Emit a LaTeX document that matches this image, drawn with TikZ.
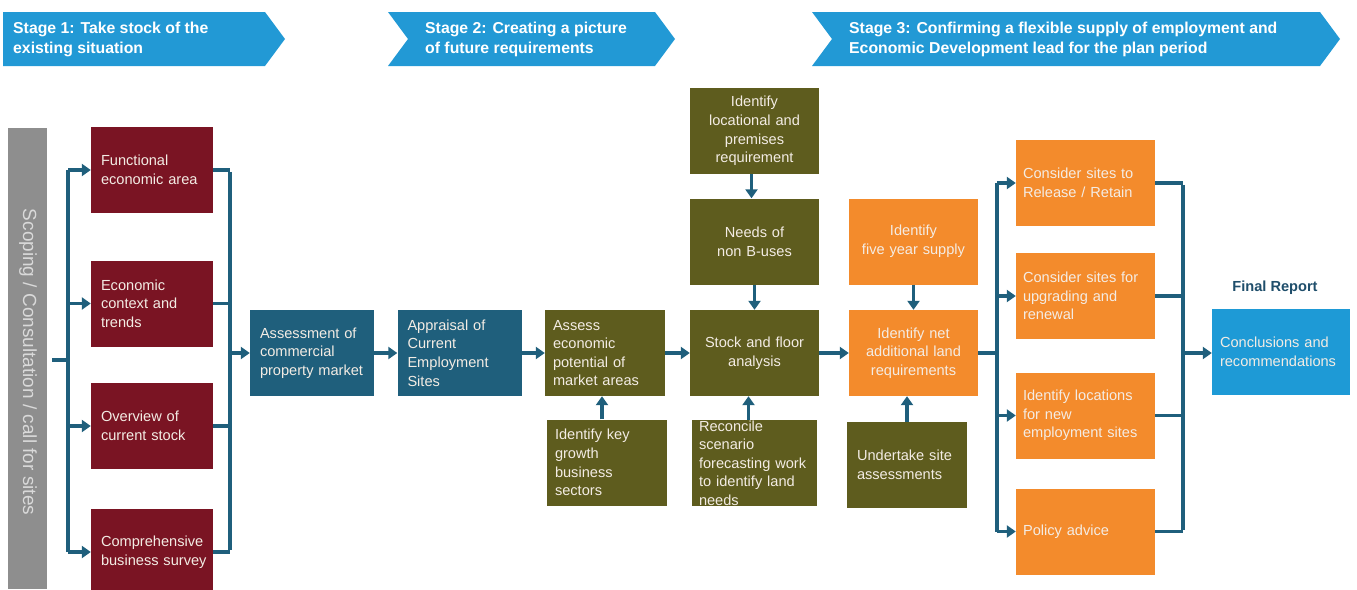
\documentclass[tikz,border=0pt]{standalone}
\usepackage{fontspec}
\setmainfont{Liberation Sans}
\usetikzlibrary{arrows.meta}
\definecolor{bannerblue}{HTML}{2299D5}
\definecolor{redbox}{HTML}{7A1423}
\definecolor{tealbox}{HTML}{1F5F7C}
\definecolor{olivebox}{HTML}{5E5C1E}
\definecolor{orangebox}{HTML}{F38B2C}
\definecolor{lightblue}{HTML}{1E9AD6}
\definecolor{greybar}{HTML}{8E8E8E}
\definecolor{greytext}{HTML}{D9D9D9}
\definecolor{arrcol}{HTML}{1F5F7C}
\definecolor{reporttext}{HTML}{1F4E6B}
\definecolor{boxtext}{HTML}{F3ECE4}
\newcommand\myboxfont{\fontsize{14.6}{18.6}\selectfont\hyphenpenalty=10000 \exhyphenpenalty=10000 \hbadness=10000 \hfuzz=50pt\relax}
\tikzset{
  box/.style={rectangle, inner xsep=10pt, inner ysep=0pt, text=boxtext,
    font=\myboxfont, minimum height=86pt},
  redb/.style={box, fill=redbox, minimum width=122pt, text width=102pt, align=left},
  tealb/.style={box, fill=tealbox, minimum width=124pt, text width=104pt, align=left},
  oliveL/.style={box, fill=olivebox, minimum width=120pt, text width=104pt, align=left, inner xsep=8pt},
  oliveC/.style={box, fill=olivebox, minimum width=129pt, text width=115pt, align=center, inner xsep=7pt},
  orangeC/.style={box, fill=orangebox, minimum width=129pt, text width=115pt, align=center, inner xsep=7pt},
  orangeL/.style={box, fill=orangebox, minimum width=139pt, text width=125pt, align=left, inner xsep=7pt},
  ln/.style={draw=arrcol, line width=3.6pt},
  arr/.style={ln, -{Triangle[length=9pt,width=12pt]}},
  bannertext/.style={text=white, font=\bfseries\fontsize{15.8}{20}\selectfont, align=left, anchor=west, inner sep=0pt},
}
\begin{document}
\begin{tikzpicture}[x=1pt,y=-1pt]
\useasboundingbox (0,0) rectangle (1357,589);
% banners
\fill[bannerblue] (3,12) -- (265,12) -- (285,39) -- (265,66) -- (3,66) -- cycle;
\fill[bannerblue] (388,12) -- (655,12) -- (675,39) -- (655,66) -- (388,66) -- (408,39) -- cycle;
\fill[bannerblue] (812,12) -- (1320,12) -- (1340,39) -- (1320,66) -- (812,66) -- (832,39) -- cycle;
\node[bannertext] (s1) at (13,39) {Stage 1: Take stock of the\\existing situation};
\node[bannertext] (s2) at (425,39) {Stage 2: Creating a picture\\of future requirements};
\node[bannertext] (s3) at (849,39) {Stage 3: Confirming a flexible supply of employment and\\Economic Development lead for the plan period};
% grey bar
\fill[greybar] (8,128) rectangle (47,589);
\node[text=greytext, rotate=-90, font=\fontsize{19}{22}\selectfont, inner sep=0pt] (grey) at (28,362) {Scoping / Consultation / call for sites};
\coordinate (greyE) at (52,360);
% red boxes
\node[redb] (fea) at (152,170) {Functional\\economic area};
\node[redb] (ect) at (152,303.5) {Economic\\context and\\trends};
\node[redb] (ocs) at (152,426) {Overview of\\current stock};
\node[redb] (cbs) at (152,552) {Comprehensive\\business~survey};
% teal boxes
\node[tealb] (acp) at (312,353) {Assessment of\\commercial\\property~market};
\node[tealb] (ace) at (459.5,353) {Appraisal of\\Current\\Employment\\Sites};
% olive
\node[oliveL] (aep) at (605,353) {Assess\\economic\\potential of\\market~areas};
\node[oliveL] (ikg) at (607,462.5) {Identify key\\growth\\business\\sectors};
\node[oliveC] (sfa) at (754.5,353) {Stock and floor\\analysis};
\node[oliveC] (nnb) at (754.5,241.5) {Needs of\\non B-uses};
\node[oliveC] (ilp) at (754.5,131) {Identify\\locational and\\premises\\requirement};
\node[oliveL, minimum width=125pt, text width=111pt, inner xsep=7pt] (rsf) at (754.5,463) {Reconcile\\scenario\\forecasting~work\\to~identify~land\\needs};
\node[oliveL, inner xsep=10pt, text width=100pt] (usa) at (907,465) {Undertake~site\\assessments};
% orange
\node[orangeC] (ify) at (913.5,241.5) {Identify\\five~year~supply};
\node[orangeC] (ina) at (913.5,353) {Identify net\\additional~land\\requirements};
\node[orangeL] (csr) at (1085.5,183) {Consider sites to\\Release / Retain};
\node[orangeL] (csu) at (1085.5,296) {Consider~sites~for\\upgrading and\\renewal};
\node[orangeL] (iln) at (1085.5,415.5) {Identify~locations\\for new\\employment~sites};
\node[orangeL] (pa) at (1085.5,531.5) {Policy advice};
% final report
\node[text=reporttext, font=\bfseries\fontsize{14.6}{18}\selectfont] (fr) at (1275,288) {Final Report};
\node[box, fill=lightblue, minimum width=138pt, text width=122pt, inner xsep=8pt, align=left] (cr) at (1281,351.5) {Conclusions and\\recommendations};
% left bracket
\coordinate (b1) at (68,360);
\draw[ln] (greyE) -- (b1);
\draw[ln] (b1 |- fea.west) -- (b1 |- cbs.west);
\foreach \n in {fea,ect,ocs,cbs} \draw[arr] (b1 |- \n.west) -- (\n.west);
% right bracket 1
\coordinate (b2) at (230,353);
\foreach \n in {fea,ect,ocs,cbs} \draw[ln] (\n.east) -- (b2 |- \n.east);
\draw[ln] ([yshift=-1.8pt]b2 |- fea.east) -- ([yshift=1.8pt]b2 |- cbs.east);
\draw[arr] (b2) -- (b2 -| acp.west);
% main chain
\draw[arr] (acp.east) -- (ace.west);
\draw[arr] (ace.east) -- (aep.west);
\draw[arr] (aep.east) -- (sfa.west);
\draw[arr] (sfa.east) -- (ina.west);
\draw[arr] (ikg.north -| aep.south) ++(-3,0) coordinate (t1) -- (t1 |- aep.south);
\draw[arr] ([xshift=-3pt]ilp.south) -- ([xshift=-3pt]ilp.south |- nnb.north);
\draw[arr] (nnb.south) -- (sfa.north);
\draw[arr] ([xshift=-6pt]rsf.north) -- ([xshift=-6pt]rsf.north |- sfa.south);
\draw[arr] (ify.south) -- (ina.north);
\draw[arr] (usa.north) -- (usa.north |- ina.south);
% right bracket 2
\coordinate (b3) at (997,353);
\draw[ln] (ina.east) -- (b3);
\draw[ln] (b3 |- csr.west) -- (b3 |- pa.west);
\foreach \n in {csr,csu,iln,pa} \draw[arr] (b3 |- \n.west) -- (\n.west);
% right bracket 3
\coordinate (b4) at (1183,353);
\foreach \n in {csr,csu,iln,pa} \draw[ln] (\n.east) -- (b4 |- \n.east);
\draw[ln] ([yshift=-1.8pt]b4 |- csr.east) -- ([yshift=1.8pt]b4 |- pa.east);
\draw[arr] (b4) -- (b4 -| cr.west);
\end{tikzpicture}
\end{document}
